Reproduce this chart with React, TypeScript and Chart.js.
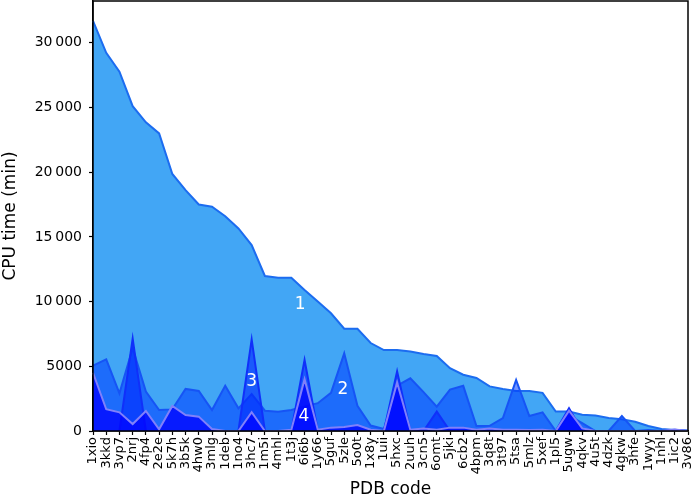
import React, { useEffect, useRef } from 'react';
import { Chart, registerables } from 'chart.js';

Chart.register(...registerables);

const pdbCodes = [
  '1xio', '3kkd', '3vp7', '2nrj', '4fp4', '2e2e', '5k7h', '3b5k', '4hw0', '3mlg',
  '1deb', '1no4', '3hc7', '1m5i', '4mhl', '1t3j', '6i6b', '1y66', '5guf', '5zle',
  '5o0t', '1x8y', '1uii', '5hxc', '2uuh', '3cn5', '6omt', '5jki', '6cb2', '4bpm',
  '3q8t', '3t97', '5tsa', '5mlz', '5xef', '1pl5', '5ugw', '4qkv', '4u5t', '4dzk',
  '4gkw', '3hfe', '1wyy', '1nhl', '1ic2', '3v86',
];

const series1 = [
  31700, 29230, 27770, 25100, 23850, 23000, 19860, 18620, 17500, 17330,
  16600, 15650, 14370, 11980, 11850, 11850, 10900, 10000, 9100, 7900,
  7900, 6800, 6250, 6250, 6150, 5950, 5800, 4850, 4350, 4100,
  3450, 3250, 3100, 3100, 2950, 1500, 1500, 1250, 1200, 1000,
  900, 720, 390, 150, 80, 30,
];

const series2 = [
  5050, 5540, 2910, 6400, 3040, 1620, 1670, 3250, 3090, 1620,
  3500, 1750, 2850, 1570, 1490, 1620, 1900, 2150, 2950, 6000,
  1950, 420, 150, 3500, 4070, 3000, 1880, 3200, 3490, 390,
  400, 1000, 3940, 1160, 1440, 0, 1200, 600, 0, 0,
  1160, 0, 80, 0, 100, 0,
];

const series3 = [
  0, 0, 0, 7150, 0, 0, 0, 0, 0, 0,
  0, 0, 7080, 0, 0, 0, 5490, 0, 0, 0,
  0, 0, 0, 4600, 0, 0, 1500, 0, 0, 0,
  0, 0, 0, 0, 0, 0, 1750, 0, 0, 0,
  0, 0, 0, 0, 0, 0,
];

const series4 = [
  4500, 1680, 1440, 540, 1550, 130, 1930, 1240, 1110, 150,
  0, 0, 1450, 0, 0, 100, 4000, 100, 260, 310,
  460, 100, 0, 3750, 100, 200, 100, 260, 260, 100,
  200, 100, 100, 80, 100, 0, 1570, 200, 0, 0,
  0, 0, 0, 0, 120, 0,
];

const yTicks = [0, 5000, 10000, 15000, 20000, 25000, 30000];
const regionNames = ['1', '2', '3', '4'];
const regionX = [15.66, 18.9, 12.0, 15.96];
const regionY = [9740, 3170, 3790, 1080];

const fmt = (v: number) => {
  if (v >= 10000) {
    const s = String(v);
    return s.slice(0, s.length - 3) + '\u2009' + s.slice(s.length - 3);
  }
  return String(v);
};

const zeroPad = (s: any) => {
  s.paddingTop = 0;
  s.paddingBottom = 0;
  s.paddingLeft = 0;
  s.paddingRight = 0;
};

const framePlugin = {
  id: 'frameAndLabels',
  afterDatasetsDraw(chart: any) {
    const { ctx, chartArea, scales } = chart;
    ctx.save();
    ctx.fillStyle = '#ffffff';
    ctx.font = '17px "DejaVu Sans"';
    ctx.textAlign = 'center';
    ctx.textBaseline = 'middle';
    regionNames.forEach((t, i) => {
      ctx.fillText(t, scales.x.getPixelForValue(regionX[i]), scales.y.getPixelForValue(regionY[i]));
    });
    ctx.strokeStyle = '#000';
    ctx.lineWidth = 1.5;
    ctx.strokeRect(chartArea.left, chartArea.top, chartArea.right - chartArea.left, chartArea.bottom - chartArea.top);
    ctx.restore();
  },
};

export default function App() {
  const ref = useRef<HTMLCanvasElement>(null);
  useEffect(() => {
    if (!ref.current) return;
    const chart = new Chart(ref.current, {
      type: 'line',
      data: {
        labels: pdbCodes,
        datasets: [
          {
            label: '1',
            data: series1,
            order: 4,
            fill: 'origin',
            backgroundColor: 'rgb(66,166,245)',
            borderColor: 'rgb(28,108,240)',
            borderWidth: 2,
            pointRadius: 0,
            tension: 0,
          },
          {
            label: '2',
            data: series2,
            order: 3,
            fill: 'origin',
            backgroundColor: 'rgba(0,60,255,0.55)',
            borderColor: 'rgb(22,84,245)',
            borderWidth: 2,
            pointRadius: 0,
            tension: 0,
          },
          {
            label: '3',
            data: series3,
            order: 2,
            fill: 'origin',
            backgroundColor: 'rgba(0,40,255,0.6)',
            borderColor: 'rgb(16,48,250)',
            borderWidth: 2,
            pointRadius: 0,
            tension: 0,
          },
          {
            label: '4',
            data: series4,
            order: 1,
            fill: 'origin',
            backgroundColor: 'rgba(0,0,255,0.75)',
            borderColor: 'rgb(128,128,250)',
            borderWidth: 2,
            pointRadius: 0,
            tension: 0,
          },
        ],
      },
      options: {
        animation: false,
        responsive: false,
        devicePixelRatio: 1,
        layout: { padding: { left: 0, right: 4, top: 1, bottom: 0 } },
        plugins: {
          legend: { display: false },
          tooltip: { enabled: false },
        },
        scales: {
          x: {
            type: 'category',
            offset: false,
            grid: { display: true, drawOnChartArea: false, drawTicks: true, tickLength: 4, color: '#000', tickWidth: 1.2 },
            border: { display: true, color: '#000', width: 1.5 },
            ticks: {
              autoSkip: false,
              maxRotation: 90,
              minRotation: 90,
              padding: 2,
              color: '#000',
              font: { family: 'DejaVu Sans', size: 13 },
            },
            title: {
              display: true,
              text: 'PDB code',
              color: '#000',
              font: { family: 'DejaVu Sans', size: 17 },
              padding: { top: 4, bottom: 1 },
            },
            afterFit: (s: any) => { s.height = 70; zeroPad(s); },
          },
          y: {
            type: 'linear',
            min: 0,
            max: 33230,
            grid: { display: true, drawOnChartArea: false, drawTicks: true, tickLength: 4, color: '#000', tickWidth: 1.2 },
            border: { display: true, color: '#000', width: 1.5 },
            afterBuildTicks: (s: any) => { s.ticks = yTicks.map((v) => ({ value: v })); },
            ticks: {
              padding: 7,
              color: '#000',
              font: { family: 'DejaVu Sans', size: 14 },
              callback: (v: any) => fmt(Number(v)),
            },
            title: {
              display: true,
              text: 'CPU time (min)',
              color: '#000',
              font: { family: 'DejaVu Sans', size: 17 },
              padding: { top: 0, bottom: 4 },
            },
            afterFit: (s: any) => { s.width = 93; zeroPad(s); },
          },
        },
      },
      plugins: [framePlugin],
    });
    return () => chart.destroy();
  }, []);
  return (
    <div style={{ position: 'absolute', left: 0, top: 0, width: 692, height: 501 }}>
      <canvas ref={ref} width={692} height={501} style={{ width: 692, height: 501 }} />
    </div>
  );
}
